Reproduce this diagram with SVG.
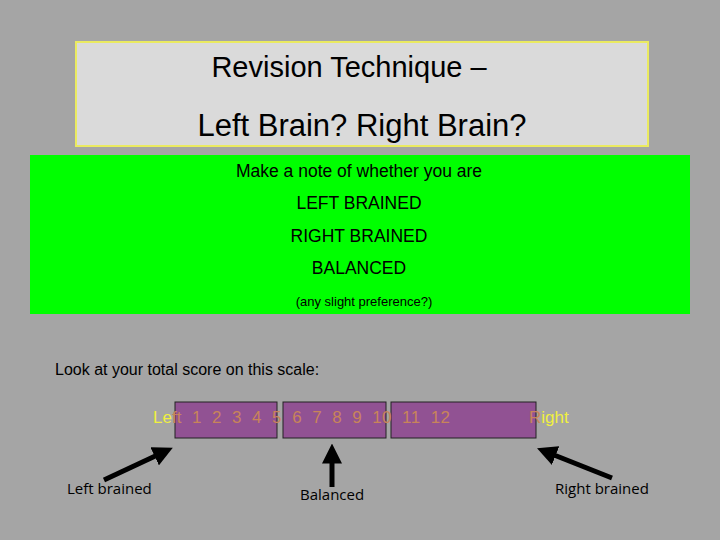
<svg xmlns="http://www.w3.org/2000/svg" width="720" height="540" viewBox="0 0 720 540">
<style>
.s{font-family:"Liberation Sans",Arial,sans-serif}
.c{font-family:"Open Sans","DejaVu Sans",sans-serif;font-size:15px;fill:#000}
.bx{fill:#915293;stroke:#222;stroke-width:1}
.ar{stroke:#000;stroke-width:5;marker-end:url(#h)}
</style>
<defs><marker id="h" markerWidth="4" markerHeight="4" refX="2.5" refY="2" orient="auto" markerUnits="strokeWidth"><path d="M0,0L4,2L0,4z" fill="#000"/></marker></defs>
<rect width="720" height="540" fill="#a5a5a5"/>
<g id="title">
<rect x="76" y="42" width="572" height="104" fill="#dadada" stroke="#eaea60" stroke-width="2"/>
<text class="s" x="349" y="77" font-size="29" text-anchor="middle">Revision Technique –</text>
<text class="s" x="362" y="136" font-size="31" text-anchor="middle">Left Brain? Right Brain?</text>
</g>
<g id="note">
<rect x="30" y="155" width="660" height="159" fill="#00ff00"/>
<g class="s" font-size="17.5" text-anchor="middle">
<text x="359" y="177">Make a note of whether you are</text>
<text x="359" y="209">LEFT BRAINED</text>
<text x="359" y="242">RIGHT BRAINED</text>
<text x="359" y="274">BALANCED</text>
<text x="364" y="306" font-size="13">(any slight preference?)</text>
</g>
</g>
<text class="s" x="55" y="375" font-size="16" fill="#000">Look at your total score on this scale:</text>
<g id="scale">
<rect class="bx" x="175" y="402" width="102" height="36"/>
<rect class="bx" x="283" y="402" width="103" height="36"/>
<rect class="bx" x="391" y="402" width="145" height="36"/>
<text class="s" x="153" y="423" font-size="17" fill="#f0f040">Le<tspan fill="#c8845a">ft</tspan></text>
<text class="s" x="192" y="423" font-size="17" fill="#c8845a" xml:space="preserve" textLength="258" lengthAdjust="spacing">1  2  3  4  5  6  7  8  9  10  11  12</text>
<text class="s" x="529" y="423" font-size="17" fill="#f0f040"><tspan fill="#c8845a">R</tspan>ight</text>
</g>
<g id="connectors">
<line class="ar" x1="104" y1="480" x2="166" y2="451"/>
<line class="ar" x1="332" y1="487" x2="332" y2="451"/>
<line class="ar" x1="612" y1="478" x2="544" y2="451"/>
</g>
<g id="labels">
<text class="c" x="67" y="494">Left brained</text>
<text class="c" x="300" y="500">Balanced</text>
<text class="c" x="555" y="494">Right brained</text>
</g>
</svg>
